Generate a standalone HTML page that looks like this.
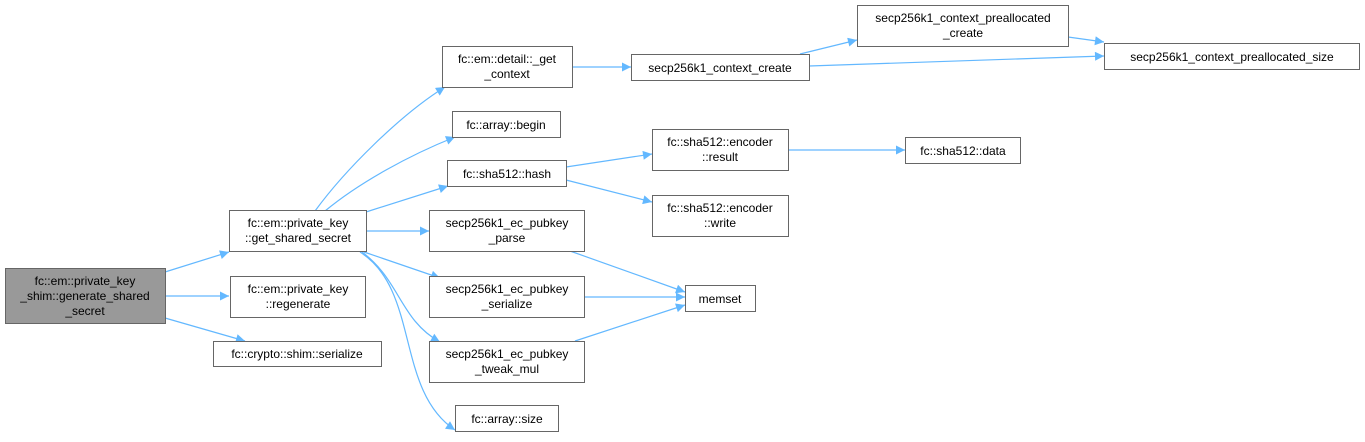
<!DOCTYPE html>
<html><head><meta charset="utf-8"><style>
body{margin:0;background:#fff}
svg text{font-family:"Liberation Sans",Arial,sans-serif;font-size:12px;fill:#000;text-anchor:middle}
</style></head><body>
<svg width="1365" height="437" viewBox="0 0 1365 437" xmlns="http://www.w3.org/2000/svg">
<defs><marker id="a" viewBox="0 0 10 10" refX="10" refY="5" markerWidth="12" markerHeight="9" markerUnits="userSpaceOnUse" orient="auto"><path d="M0,0L10,5L0,10z" fill="#63b8ff"/></marker></defs>
<g fill="none" stroke="#63b8ff" stroke-width="1.2" marker-end="url(#a)">
<path d="M165,272L229,252"/>
<path d="M165,296L229,296"/>
<path d="M165,318L245,341"/>
<path d="M315,211C345,170 400,115 445,87"/>
<path d="M325,211C360,182 410,155 455,137"/>
<path d="M366,212L448,186"/>
<path d="M366,231L429,231"/>
<path d="M364,252L440,278"/>
<path d="M362,252C400,280 400,320 440,342"/>
<path d="M360,252C420,290 395,390 455,430"/>
<path d="M572,67L631,67"/>
<path d="M800,54L857,40"/>
<path d="M809,66L1104,56"/>
<path d="M1068,37L1104,42"/>
<path d="M566,167L652,154"/>
<path d="M566,180L652,202"/>
<path d="M789,150L905,150"/>
<path d="M570,251L685,292"/>
<path d="M585,297L685,297"/>
<path d="M575,341L685,305"/>
</g>
<g stroke="#666" stroke-width="1" fill="#fff">
<rect x="5.5" y="268.5" width="160" height="55" fill="#999"/>
<rect x="229.5" y="210.5" width="137" height="41"/>
<rect x="230.5" y="276.5" width="135" height="41"/>
<rect x="213.5" y="341.5" width="168" height="25"/>
<rect x="442.5" y="46.5" width="130" height="41"/>
<rect x="452.5" y="111.5" width="108" height="26"/>
<rect x="447.5" y="160.5" width="119" height="26"/>
<rect x="429.5" y="210.5" width="155" height="41"/>
<rect x="429.5" y="276.5" width="155" height="41"/>
<rect x="429.5" y="341.5" width="155" height="41"/>
<rect x="455.5" y="405.5" width="103" height="26"/>
<rect x="631.5" y="54.5" width="178" height="26"/>
<rect x="652.5" y="129.5" width="136" height="41"/>
<rect x="652.5" y="195.5" width="136" height="41"/>
<rect x="685.5" y="285.5" width="70" height="26"/>
<rect x="857.5" y="5.5" width="211" height="41"/>
<rect x="1104.5" y="43.5" width="255" height="26"/>
<rect x="905.5" y="137.5" width="115" height="26"/>
</g>
<text x="85" y="285">fc::em::private_key</text>
<text x="85" y="300">_shim::generate_shared</text>
<text x="85" y="315">_secret</text>
<text x="298" y="227">fc::em::private_key</text>
<text x="298" y="242">::get_shared_secret</text>
<text x="298" y="293">fc::em::private_key</text>
<text x="298" y="308">::regenerate</text>
<text x="297" y="358">fc::crypto::shim::serialize</text>
<text x="507" y="63">fc::em::detail::_get</text>
<text x="507" y="78">_context</text>
<text x="506" y="129">fc::array::begin</text>
<text x="507" y="178">fc::sha512::hash</text>
<text x="507" y="227">secp256k1_ec_pubkey</text>
<text x="507" y="242">_parse</text>
<text x="507" y="293">secp256k1_ec_pubkey</text>
<text x="507" y="308">_serialize</text>
<text x="507" y="358">secp256k1_ec_pubkey</text>
<text x="507" y="373">_tweak_mul</text>
<text x="507" y="423">fc::array::size</text>
<text x="720" y="72">secp256k1_context_create</text>
<text x="720" y="146">fc::sha512::encoder</text>
<text x="720" y="161">::result</text>
<text x="720" y="212">fc::sha512::encoder</text>
<text x="720" y="227">::write</text>
<text x="720" y="303">memset</text>
<text x="963" y="22">secp256k1_context_preallocated</text>
<text x="963" y="37">_create</text>
<text x="1232" y="61">secp256k1_context_preallocated_size</text>
<text x="963" y="155">fc::sha512::data</text>
</svg>
</body></html>
